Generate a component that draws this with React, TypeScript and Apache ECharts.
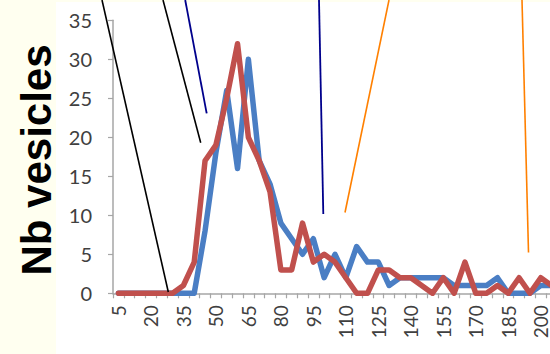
import React, { useEffect, useRef } from "react";
import * as echarts from "echarts";

const categories: string[] = [
  "5", "10", "15", "20", "25", "30", "35", "40", "45", "50",
  "55", "60", "65", "70", "75", "80", "85", "90", "95", "100",
  "105", "110", "115", "120", "125", "130", "135", "140", "145", "150",
  "155", "160", "165", "170", "175", "180", "185", "190", "195", "200", "205",
];

const blueValues: number[] = [
  0, 0, 0, 0, 0, 0, 0, 0, 8, 18,
  26, 16, 30, 17, 14, 9, 7, 5, 7, 2,
  5, 2, 6, 4, 4, 1, 2, 2, 2, 2,
  2, 1, 1, 1, 1, 2, 0, 0, 0, 1, 1,
];

const redValues: number[] = [
  0, 0, 0, 0, 0, 0, 1, 4, 17, 19,
  25, 32, 20, 17, 13, 3, 3, 9, 4, 5,
  4, 2, 0, 0, 3, 3, 2, 2, 1, 0,
  2, 0, 4, 0, 0, 1, 0, 2, 0, 2, 1,
];

const yTitle = "Nb vesicles";

// annotation callout lines [x1, y1, x2, y2, color, width]
const calloutLines: [number, number, number, number, string, number][] = [
  [102, 0, 168.3, 292, "#000000", 1.6],
  [163, 0, 200.7, 142.7, "#000000", 1.6],
  [185.2, 0, 206.7, 113.3, "#00008C", 1.8],
  [319, 0, 323.3, 214, "#00008C", 1.8],
  [389, 0, 345, 212.5, "#FF8000", 1.6],
  [522, 0, 528.5, 252.5, "#FF8000", 1.6],
];

export default function App() {
  const ref = useRef<HTMLDivElement>(null);
  useEffect(() => {
    if (!ref.current) return;
    const chart = echarts.init(ref.current, null, { renderer: "svg" });
    const axisGray = "#A6A6A6";
    chart.setOption({
      animation: false,
      backgroundColor: "#FFFFFF",
      grid: { left: 113, top: 20.3, right: 43, bottom: 60.7, containLabel: false },
      xAxis: {
        type: "category",
        data: categories,
        boundaryGap: true,
        axisLine: { show: true, lineStyle: { color: axisGray, width: 1.5 } },
        axisTick: { show: true, interval: 0, length: 5, lineStyle: { color: axisGray, width: 1.2 } },
        axisLabel: {
          interval: 2,
          rotate: 90,
          margin: 12,
          fontSize: 19,
          fontFamily: "Lato",
          color: "#404040",
        },
        splitLine: { show: false },
      },
      yAxis: {
        type: "value",
        min: 0,
        max: 35,
        interval: 5,
        axisLine: { show: true, lineStyle: { color: axisGray, width: 1.5 } },
        axisTick: { show: true, length: 5, lineStyle: { color: axisGray, width: 1.2 } },
        axisLabel: {
          margin: 21,
          fontSize: 20,
          fontFamily: "Lato",
          color: "#404040",
        },
        splitLine: { show: false },
      },
      series: [
        {
          type: "line",
          data: blueValues,
          symbol: "none",
          lineStyle: { color: "#4A7EC4", width: 5.5, join: "round", cap: "round" },
          z: 2,
        },
        {
          type: "line",
          data: redValues,
          symbol: "none",
          lineStyle: { color: "#C0504D", width: 5.5, join: "round", cap: "round" },
          z: 3,
        },
      ],
      graphic: [
        {
          type: "rect",
          z: 0,
          silent: true,
          shape: { x: 0, y: 0, width: 56, height: 354 },
          style: { fill: "#FFFFF0" },
        },
        {
          type: "rect",
          z: 0,
          silent: true,
          shape: { x: 0, y: 0, width: 600, height: 2 },
          style: { fill: "#FFFFF0" },
        },
        {
          type: "text",
          x: 36,
          y: 160,
          rotation: Math.PI / 2,
          style: {
            text: yTitle,
            fontSize: 42,
            fontWeight: "bold",
            fontFamily: "Liberation Sans",
            fill: "#000000",
            align: "center",
            verticalAlign: "middle",
          },
        },
        ...calloutLines.map(([x1, y1, x2, y2, color, w]) => ({
          type: "line",
          z: 10,
          silent: true,
          shape: { x1, y1, x2, y2 },
          style: { stroke: color, lineWidth: w },
        })),
      ],
    });
    return () => chart.dispose();
  }, []);
  return (
    <div
      style={{
        position: "fixed",
        left: 0,
        top: 0,
        width: 550,
        height: 354,
        overflow: "hidden",
        background: "#FFFFFF",
      }}
    >
      <div ref={ref} style={{ width: 600, height: 354 }} />
    </div>
  );
}
